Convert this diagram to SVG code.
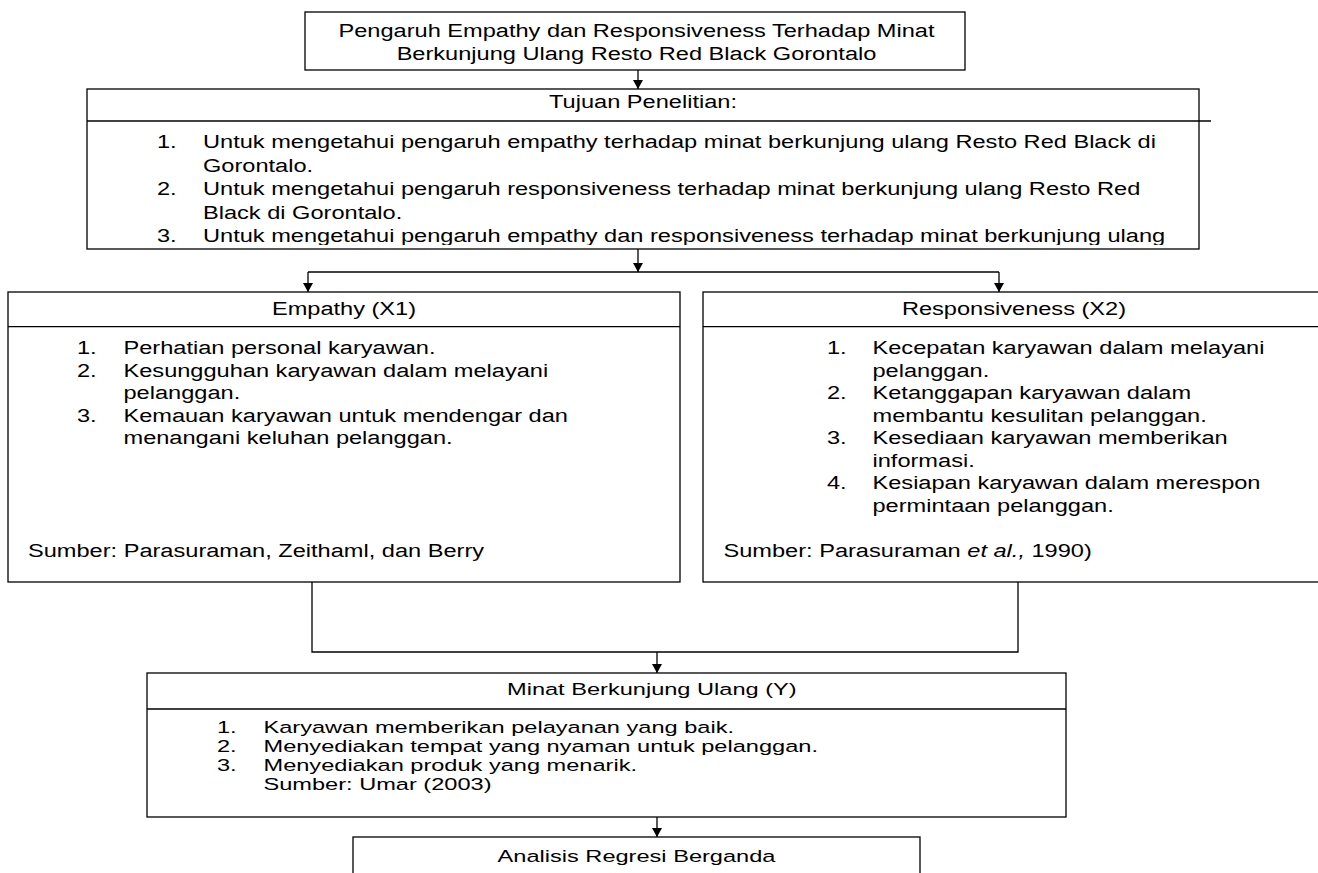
<svg xmlns="http://www.w3.org/2000/svg" width="1318" height="873" viewBox="0 0 1318 873">
<style>
.box{fill:#fff;stroke:#000;stroke-width:1.3}
.ln{fill:none;stroke:#000;stroke-width:1.3}
.t{font-family:"Liberation Sans",Arial,sans-serif;font-size:19px;fill:#000}
.s{font-size:16.5px}
.m{text-anchor:middle}
</style>
<defs>
<marker id="arr" markerUnits="userSpaceOnUse" markerWidth="10" markerHeight="10" refX="9" refY="5" orient="auto">
<path d="M0,0 L9,5 L0,10 z" fill="#000"/>
</marker>
<clipPath id="clipTujuan"><rect x="87" y="89" width="1112" height="156"/></clipPath>
</defs>
<rect width="1318" height="873" fill="#fff"/>

<g id="connectors">
<path class="ln" d="M638,70 V89" marker-end="url(#arr)"/>
<path class="ln" d="M638,249 V272" marker-end="url(#arr)"/>
<path class="ln" d="M308,272 H999"/>
<path class="ln" d="M308,272 V292" marker-end="url(#arr)"/>
<path class="ln" d="M999,272 V292" marker-end="url(#arr)"/>
<path class="ln" d="M312,582 V652 H1018 V582"/>
<path class="ln" d="M657,652 V673" marker-end="url(#arr)"/>
<path class="ln" d="M657,817 V837" marker-end="url(#arr)"/>
</g>

<g id="node-title">
<rect class="box" x="305" y="12" width="660" height="58"/>
<text class="t m" transform="translate(636.5 37) scale(1.242 1)">Pengaruh Empathy dan Responsiveness Terhadap Minat</text>
<text class="t m" transform="translate(636.5 59.5) scale(1.242 1)">Berkunjung Ulang Resto Red Black Gorontalo</text>
</g>

<g id="node-tujuan">
<rect class="box" x="87" y="89" width="1112" height="160"/>
<path class="ln" d="M87,121 H1211"/>
<text class="t m" transform="translate(643 108) scale(1.242 1)">Tujuan Penelitian:</text>
<g clip-path="url(#clipTujuan)">
<text class="t" transform="translate(157 148) scale(1.242 1)">1.</text>
<text class="t" transform="translate(203 148) scale(1.242 1)">Untuk mengetahui pengaruh empathy terhadap minat berkunjung ulang Resto Red Black di</text>
<text class="t" transform="translate(203 171.5) scale(1.242 1)">Gorontalo.</text>
<text class="t" transform="translate(157 195) scale(1.242 1)">2.</text>
<text class="t" transform="translate(203 195) scale(1.242 1)">Untuk mengetahui pengaruh responsiveness terhadap minat berkunjung ulang Resto Red</text>
<text class="t" transform="translate(203 218.5) scale(1.242 1)">Black di Gorontalo.</text>
<text class="t" transform="translate(157 242) scale(1.242 1)">3.</text>
<text class="t" transform="translate(203 242) scale(1.242 1)">Untuk mengetahui pengaruh empathy dan responsiveness terhadap minat berkunjung ulang</text>
</g>
</g>

<g id="node-empathy">
<rect class="box" x="8" y="292" width="672" height="290"/>
<path class="ln" d="M8,326.7 H680"/>
<text class="t m" transform="translate(344 315) scale(1.242 1)">Empathy (X1)</text>
<text class="t" transform="translate(77 354) scale(1.242 1)">1.</text>
<text class="t" transform="translate(123.5 354) scale(1.242 1)">Perhatian personal karyawan.</text>
<text class="t" transform="translate(77 376.5) scale(1.242 1)">2.</text>
<text class="t" transform="translate(123.5 376.5) scale(1.242 1)">Kesungguhan karyawan dalam melayani</text>
<text class="t" transform="translate(123.5 399) scale(1.242 1)">pelanggan.</text>
<text class="t" transform="translate(77 421.5) scale(1.242 1)">3.</text>
<text class="t" transform="translate(123.5 421.5) scale(1.242 1)">Kemauan karyawan untuk mendengar dan</text>
<text class="t" transform="translate(123.5 444) scale(1.242 1)">menangani keluhan pelanggan.</text>
<text class="t" transform="translate(28 557) scale(1.242 1)">Sumber: Parasuraman, Zeithaml, dan Berry</text>
</g>

<g id="node-responsiveness">
<rect class="box" x="703" y="292" width="625" height="290"/>
<path class="ln" d="M703,326.7 H1328"/>
<text class="t m" transform="translate(1014 315) scale(1.242 1)">Responsiveness (X2)</text>
<text class="t" transform="translate(827 354) scale(1.242 1)">1.</text>
<text class="t" transform="translate(872.5 354) scale(1.242 1)">Kecepatan karyawan dalam melayani</text>
<text class="t" transform="translate(872.5 376.5) scale(1.242 1)">pelanggan.</text>
<text class="t" transform="translate(827 399) scale(1.242 1)">2.</text>
<text class="t" transform="translate(872.5 399) scale(1.242 1)">Ketanggapan karyawan dalam</text>
<text class="t" transform="translate(872.5 421.5) scale(1.242 1)">membantu kesulitan pelanggan.</text>
<text class="t" transform="translate(827 444) scale(1.242 1)">3.</text>
<text class="t" transform="translate(872.5 444) scale(1.242 1)">Kesediaan karyawan memberikan</text>
<text class="t" transform="translate(872.5 466.5) scale(1.242 1)">informasi.</text>
<text class="t" transform="translate(827 489) scale(1.242 1)">4.</text>
<text class="t" transform="translate(872.5 489) scale(1.242 1)">Kesiapan karyawan dalam merespon</text>
<text class="t" transform="translate(872.5 511.5) scale(1.242 1)">permintaan pelanggan.</text>
<text class="t" transform="translate(723.5 557) scale(1.242 1)">Sumber: Parasuraman <tspan font-style="italic">et al.,</tspan> 1990)</text>
</g>

<g id="node-minat">
<rect class="box" x="147" y="673" width="919" height="144"/>
<path class="ln" d="M147,709 H1066"/>
<text class="t s" transform="translate(507 695) scale(1.43 1)">Minat Berkunjung Ulang (Y)</text>
<text class="t s" transform="translate(217 733) scale(1.43 1)">1.</text>
<text class="t s" transform="translate(263.5 733) scale(1.43 1)">Karyawan memberikan pelayanan yang baik.</text>
<text class="t s" transform="translate(217 752) scale(1.43 1)">2.</text>
<text class="t s" transform="translate(263.5 752) scale(1.43 1)">Menyediakan tempat yang nyaman untuk pelanggan.</text>
<text class="t s" transform="translate(217 771) scale(1.43 1)">3.</text>
<text class="t s" transform="translate(263.5 771) scale(1.43 1)">Menyediakan produk yang menarik.</text>
<text class="t s" transform="translate(263.5 790) scale(1.43 1)">Sumber: Umar (2003)</text>
</g>

<g id="node-analisis">
<rect class="box" x="353" y="837" width="567" height="50"/>
<text class="t s m" transform="translate(636.5 862) scale(1.43 1)">Analisis Regresi Berganda</text>
</g>
</svg>
